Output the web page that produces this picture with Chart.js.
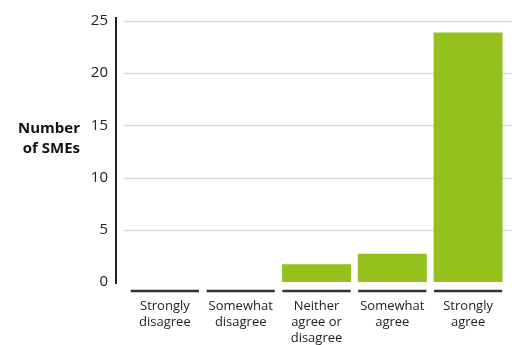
<!DOCTYPE html>
<html>
<head>
<meta charset="utf-8">
<script src="https://cdn.jsdelivr.net/npm/chart.js@4/dist/chart.umd.min.js"></script>
<style>
  html, body { margin: 0; padding: 0; background: #fff; }
  #wrap { width: 512px; height: 345px; position: relative; }
</style>
</head>
<body>
<div id="wrap"><canvas id="myChart"></canvas></div>
<script>
// data
const categorias = [
  ['Strongly', 'disagree'],
  ['Somewhat', 'disagree'],
  ['Neither', 'agree or', 'disagree'],
  ['Somewhat', 'agree'],
  ['Strongly', 'agree']
];
const valores = [0, 0, 1.7, 2.7, 23.9];
const ticksY = [0, 5, 10, 15, 20, 25];
const tituloY = ['Number', 'of SMEs'];

const fuente = '"Open Sans", "Noto Sans", sans-serif';

// axis line, grid, category underlines and the y title
const extras = {
  id: 'extras',
  beforeDatasetsDraw(chart) {
    const ctx = chart.ctx;
    const y = chart.scales.y;
    ctx.save();
    ctx.strokeStyle = '#dcdcdc';
    ctx.lineWidth = 1.5;
    ticksY.forEach(v => {
      if (v === 0) return;
      const py = Math.round(y.getPixelForValue(v)) + 0.5;
      ctx.beginPath();
      ctx.moveTo(y.right - 3, py);
      ctx.lineTo(chart.width, py);
      ctx.stroke();
    });
    ctx.restore();
  },
  afterDraw(chart) {
    const ctx = chart.ctx;
    const y = chart.scales.y;
    const x = chart.scales.x;
    ctx.save();
    // y axis line
    ctx.strokeStyle = '#222';
    ctx.lineWidth = 2;
    ctx.beginPath();
    ctx.moveTo(y.right - 11, y.getPixelForValue(25) - 4);
    ctx.lineTo(y.right - 11, y.getPixelForValue(0) + 2);
    ctx.stroke();
    // underline per category
    const ancho = (x.getPixelForValue(1) - x.getPixelForValue(0)) * 0.9;
    const base = y.getPixelForValue(0) + 9;
    ctx.strokeStyle = '#333';
    ctx.lineWidth = 2.5;
    categorias.forEach((c, i) => {
      const cx = x.getPixelForValue(i);
      ctx.beginPath();
      ctx.moveTo(cx - ancho / 2, base);
      ctx.lineTo(cx + ancho / 2, base);
      ctx.stroke();
    });
    // y title
    ctx.fillStyle = '#111';
    ctx.font = 'bold 15px ' + fuente;
    ctx.textAlign = 'right';
    ctx.textBaseline = 'middle';
    const mid = y.getPixelForValue(15);
    tituloY.forEach((t, i) => {
      ctx.fillText(t, 80, mid + 3 + i * 20);
    });
    ctx.restore();
  }
};

const ctx = document.getElementById('myChart');
const myChart = new Chart(ctx, {
  type: 'bar',
  data: {
    labels: categorias,
    datasets: [{
      data: valores,
      backgroundColor: '#95c11f',
      borderWidth: 0,
      barPercentage: 0.91,
      categoryPercentage: 1
    }]
  },
  options: {
    responsive: true,
    maintainAspectRatio: false,
    animation: false,
    layout: { padding: { top: 21, right: 6, left: 0, bottom: 0 } },
    plugins: {
      legend: { display: false },
      tooltip: { enabled: false }
    },
    scales: {
      x: {
        grid: { display: false, drawTicks: false },
        border: { display: false },
        ticks: {
          color: '#222',
          padding: 16,
          maxRotation: 0,
          autoSkip: false,
          font: { family: fuente, size: 13, lineHeight: 1.23 }
        },
        afterFit(scale) { scale.height = 63; }
      },
      y: {
        min: 0,
        max: 25,
        grid: { display: false, drawTicks: false },
        border: { display: false },
        afterBuildTicks(scale) { scale.ticks = ticksY.map(v => ({ value: v })); },
        ticks: {
          color: '#222',
          padding: 19,
          font: { family: fuente, size: 15 }
        },
        afterFit(scale) {
          scale.width = 127;
          scale.paddingTop = 0;
          scale.paddingBottom = 0;
        }
      }
    }
  },
  plugins: [extras]
});
</script>
</body>
</html>
